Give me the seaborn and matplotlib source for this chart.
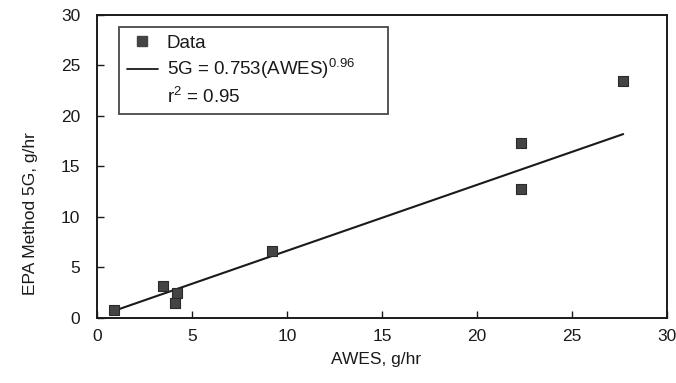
import matplotlib
matplotlib.use("Agg")
import matplotlib.pyplot as plt
import seaborn as sns
import pandas as pd
from matplotlib.lines import Line2D

# Data
awes = [0.9, 3.5, 4.2, 4.1, 9.2, 22.3, 22.3, 27.7]
epa_5g = [0.8, 3.2, 2.5, 1.5, 6.6, 17.3, 12.8, 23.5]
fit_x = [0.9, 27.7]
fit_y = [0.7, 18.2]
ticks = [0, 5, 10, 15, 20, 25, 30]

df = pd.DataFrame({"AWES": awes, "EPA": epa_5g})

sns.set_style("ticks")
plt.rcParams["font.family"] = ["Liberation Sans", "DejaVu Sans"]

fig = plt.figure(figsize=(6.76, 3.83), dpi=100)
ax = fig.add_axes([0.1435, 0.170, 0.843, 0.791])

sns.lineplot(x=fit_x, y=fit_y, color="#1a1a1a", linewidth=1.5, ax=ax)
sns.scatterplot(data=df, x="AWES", y="EPA", marker="s", s=42,
                color="#444444", edgecolor="#2a2a2a", linewidth=0.8, ax=ax, zorder=3)

ax.set_xlim(0, 30)
ax.set_ylim(0, 30)
ax.set_xticks(ticks)
ax.set_yticks(ticks)
ax.tick_params(direction="in", length=5, width=1.0, labelsize=12.5, colors="#1a1a1a")
ax.tick_params(axis="x", pad=8)
ax.tick_params(axis="y", pad=12)
for s in ax.spines.values():
    s.set_linewidth(1.4)
    s.set_color("#1a1a1a")
ax.set_xlabel("AWES, g/hr", fontsize=12.5, color="#1a1a1a")
ax.set_ylabel("EPA Method 5G, g/hr", fontsize=12.5, color="#1a1a1a")
ax.xaxis.set_label_coords(0.489, -0.112)
ax.yaxis.set_label_coords(-0.104, 0.345)

handles = [
    Line2D([], [], marker="s", linestyle="none", color="#444444", markersize=6.5),
    Line2D([], [], color="#1a1a1a", linewidth=1.3),
    Line2D([], [], linestyle="none"),
]
labels = ["Data", r"5G = 0.753(AWES)$^{\mathregular{0.96}}$", r"r$^{\mathregular{2}}$ = 0.95"]
leg = ax.legend(handles, labels, loc="upper left", bbox_to_anchor=(0.0386, 0.675, 0.472, 0.285),
                mode="expand", borderaxespad=0, frameon=True, fancybox=False,
                edgecolor="#1a1a1a", fontsize=13.5, handlelength=1.7, handletextpad=0.45,
                borderpad=0.4, labelspacing=0.25)
leg.get_frame().set_linewidth(1.3)
for t in leg.get_texts():
    t.set_color("#1a1a1a")

fig.savefig("out.png", dpi=100)
